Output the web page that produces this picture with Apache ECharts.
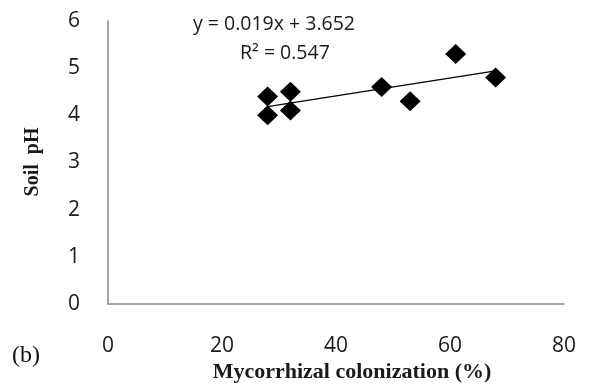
<!DOCTYPE html>
<html>
<head>
<meta charset="utf-8">
<script src="https://cdn.jsdelivr.net/npm/echarts@6/dist/echarts.min.js"></script>
<style>html,body{margin:0;padding:0;background:#fff}#c{width:589px;height:385px}</style>
</head>
<body>
<div id="c"></div>
<script>
const colonization = [28, 28, 32, 32, 48, 53, 61, 68];
const soilPH = [4.0, 4.4, 4.5, 4.1, 4.6, 4.3, 5.3, 4.8];
const trendX = [28, 68];
const trendY = [4.184, 4.944];
const equationText = 'y = 0.019x + 3.652';
const r2Text = 'R² = 0.547';
const xTicks = [0, 20, 40, 60, 80];
const yTicks = [0, 1, 2, 3, 4, 5, 6];

const chart = echarts.init(document.getElementById('c'));
chart.setOption({
  animation: false,
  grid: { left: 108, right: 25, top: 21, bottom: 81 },
  xAxis: {
    type: 'value', min: xTicks[0], max: xTicks[xTicks.length-1], interval: 20,
    axisLine: { show: true, lineStyle: { color: '#8c8c8c', width: 1.5 } },
    axisTick: { show: false }, splitLine: { show: false },
    axisLabel: { margin: 32, fontFamily: 'Open Sans', fontSize: 21, color: '#1a1a1a' }
  },
  yAxis: {
    type: 'value', min: yTicks[0], max: yTicks[yTicks.length-1], interval: 1,
    axisLine: { show: true, lineStyle: { color: '#8c8c8c', width: 1.5 } },
    axisTick: { show: false }, splitLine: { show: false },
    axisLabel: { margin: 28, fontFamily: 'Open Sans', fontSize: 21, color: '#1a1a1a' }
  },
  series: [
    {
      type: 'line', data: trendX.map((x, i) => [x, trendY[i]]),
      symbol: 'none', lineStyle: { color: '#000', width: 1.3 }, z: 1
    },
    {
      type: 'scatter', data: colonization.map((x, i) => [x, soilPH[i]]),
      symbol: 'diamond', symbolSize: [21, 20], itemStyle: { color: '#000', opacity: 1 }, z: 2
    }
  ],
  graphic: [
    { type: 'text', x: 193, y: 14, style: { text: equationText, font: '19.5px "Open Sans"', fill: '#1a1a1a' } },
    { type: 'text', x: 240, y: 43, style: { text: r2Text, font: '19.5px "Open Sans"', fill: '#1a1a1a' } },
    { type: 'text', x: 352, y: 372, style: { text: 'Mycorrhizal colonization (%)', font: 'bold 22px "Liberation Serif"', fill: '#1a1a1a', align: 'center', verticalAlign: 'middle' } },
    { type: 'text', x: 33, y: 162, rotation: Math.PI/2, style: { text: 'Soil  pH', font: 'bold 20px "Liberation Serif"', fill: '#1a1a1a', align: 'center', verticalAlign: 'middle' } },
    { type: 'text', x: 12, y: 356, style: { text: '(b)', font: '24px "Liberation Serif"', fill: '#111', verticalAlign: 'middle' } }
  ]
});
</script>
</body>
</html>
